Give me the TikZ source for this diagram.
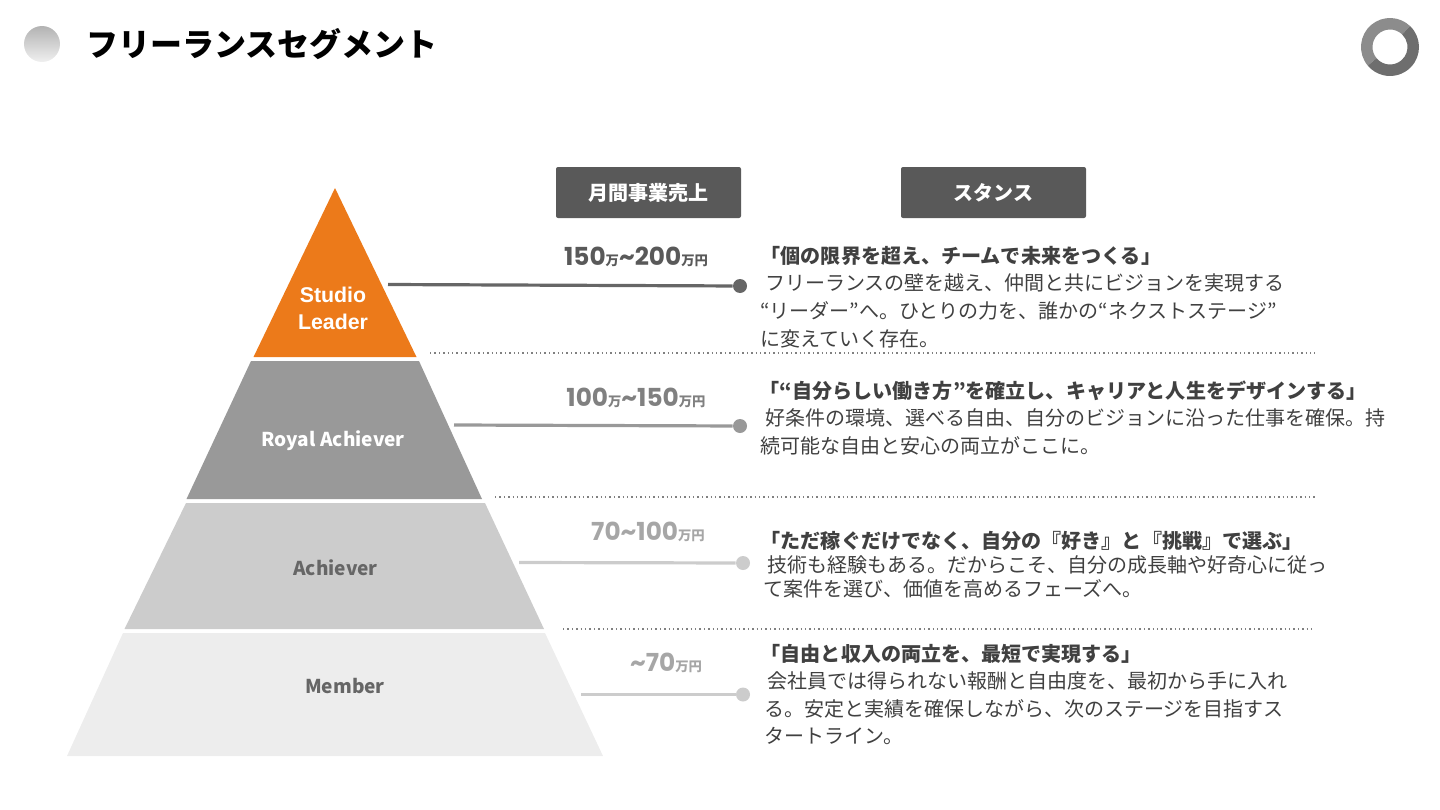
\documentclass[tikz,border=0pt]{standalone}
\usepackage{fontspec}
\setmainfont{Noto Sans CJK JP}
\newfontfamily\pop{Poppins}
\newfontfamily\arl{Liberation Sans}
\definecolor{txt}{HTML}{404040}
\definecolor{hdr}{HTML}{595959}
\definecolor{orng}{HTML}{EC7A1A}
\definecolor{ringa}{HTML}{8C8C8C}
\definecolor{ringb}{HTML}{6E6E6E}
\tikzset{
 px/.style={x=0.75pt,y=-0.75pt},
 headbox/.style={fill=hdr,rounded corners=1.5pt,minimum width=138.75pt,minimum height=38.25pt,inner sep=0pt,text=white,font=\fontsize{15}{18}\selectfont\bfseries},
 lead/.style={anchor=west,inner sep=0pt,text=txt,font=\fontsize{15.05}{18}\selectfont\bfseries},
 body/.style={anchor=west,inner sep=0pt,text=txt,font=\fontsize{15}{18}\selectfont},
 money/.style={inner sep=0pt,font=\pop\bfseries\fontsize{18.6}{20}\selectfont},
 tier/.style={inner sep=0pt,font=\fontsize{14.3}{18}\selectfont\bfseries,align=center},
 enddot/.style={circle,inner sep=0pt,minimum size=10.5pt},
 conn/.style={line width=2.4pt},
 sep/.style={draw=black!50,line width=1.1pt,dash pattern=on 1.1pt off 2.2pt},
}
\newcommand{\sm}[1]{{\normalfont\bfseries\fontsize{10}{12}\selectfont #1}}
\begin{document}
\begin{tikzpicture}[px]
\useasboundingbox (0,0) rectangle (1440,810);
% header decoration
\shade[top color=black!30,bottom color=black!6] (42,44) circle (18);
\node[anchor=west,inner sep=0pt,font=\fontsize{24}{28}\selectfont\bfseries,text=black] (title) at (86,44) {フリーランスセグメント};
\coordinate (R) at (1390,47);
\fill[ringa] ([shift={(140:29)}]R) arc[start angle=140,end angle=314,radius=29]
  -- ([shift={(314:17.5)}]R) arc[start angle=314,end angle=140,radius=17.5] -- cycle;
\fill[ringb] ([shift={(-46:29)}]R) arc[start angle=-46,end angle=140,radius=29]
  -- ([shift={(140:17.5)}]R) arc[start angle=140,end angle=-46,radius=17.5] -- cycle;
% pyramid
\fill[orng] (335,188) -- (416.5,357) -- (253.5,357) -- cycle;
\fill[black!40] (251,361) -- (419,361) -- (482,499) -- (186.5,499) -- cycle;
\fill[black!20] (186,503) -- (485,503) -- (544,629) -- (124.5,629) -- cycle;
\fill[black!7] (123,633) -- (545,633) -- (603,756) -- (67,756) -- cycle;
\node[inner sep=0pt,text=white,align=center,font=\arl\bfseries\fontsize{16}{20.2}\selectfont] (t1) at (333,308) {Studio\\Leader};
\node[tier,text=white] (t2) at (333,441) {Royal\hspace{0.25em}Achiever};
\node[tier,text=black!60] (t3) at (335.5,568) {Achiever};
\node[tier,text=black!60] (t4) at (345,686) {Member};
% headers
\node[headbox] (h1) at (648.5,192.5) {月間事業売上};
\node[headbox] (h2) at (993.5,192.5) {スタンス};
% money
\node[money,text=hdr] (m1) at (636,257) {150\sm{万}\textasciitilde200\sm{万円}};
\node[money,text=black!50] (m2) at (636,398) {100\sm{万}\textasciitilde150\sm{万円}};
\node[money,text=black!35] (m3) at (648,532) {70\textasciitilde100\sm{万円}};
\node[money,text=black!35] (m4) at (666,663) {\textasciitilde70\sm{万円}};
% connectors
\coordinate (c1) at (388,284.5);
\node[enddot,fill=black!60] (d1) at (740,286) {};
\draw[conn,black!60] (c1) -- (d1);
\coordinate (c2) at (454,425);
\node[enddot,fill=black!40] (d2) at (740,426) {};
\draw[conn,black!40] (c2) -- (d2);
\coordinate (c3) at (519,562.5);
\node[enddot,fill=black!20] (d3) at (743,563) {};
\draw[conn,black!20] (c3) -- (d3);
\coordinate (c4) at (581,694.5);
\node[enddot,fill=black!20] (d4) at (743,694.5) {};
\draw[conn,black!20] (c4) -- (d4);
% separators
\coordinate (s1a) at (430,353); \coordinate (s1b) at (1315,353);
\draw[sep] (s1a) -- (s1b);
\coordinate (s2a) at (495,497); \coordinate (s2b) at (1315,497);
\draw[sep] (s2a) -- (s2b);
\coordinate (s3a) at (563,629); \coordinate (s3b) at (1315,629);
\draw[sep] (s3a) -- (s3b);
% text 1
\node[lead] (a0) at (760.5,256) {「個の限界を超え、チームで未来をつくる」};
\node[body] (a1) at (765,283) {フリーランスの壁を越え、仲間と共にビジョンを実現する};
\node[body] (a2) at (760,311) {“リーダー”へ。ひとりの力を、誰かの“ネクストステージ”};
\node[body] (a3) at (760,339) {に変えていく存在。};
% text 2
\node[lead] (b0) at (759.5,391) {「“自分らしい働き方”を確立し、キャリアと人生をデザインする」};
\node[body] (b1) at (765,418) {好条件の環境、選べる自由、自分のビジョンに沿った仕事を確保。持};
\node[body] (b2) at (760,446) {続可能な自由と安心の両立がここに。};
% text 3
\node[lead] (e0) at (760.5,541) {「ただ稼ぐだけでなく、自分の『好き』と『挑戦』で選ぶ」};
\node[body] (e1) at (767,565) {技術も経験もある。だからこそ、自分の成長軸や好奇心に従っ};
\node[body] (e2) at (763,589) {て案件を選び、価値を高めるフェーズへ。};
% text 4
\node[lead] (f0) at (760.5,654) {「自由と収入の両立を、最短で実現する」};
\node[body] (f1) at (767,681) {会社員では得られない報酬と自由度を、最初から手に入れ};
\node[body] (f2) at (764,709) {る。安定と実績を確保しながら、次のステージを目指すス};
\node[body] (f3) at (764,736) {タートライン。};
\end{tikzpicture}
\end{document}
